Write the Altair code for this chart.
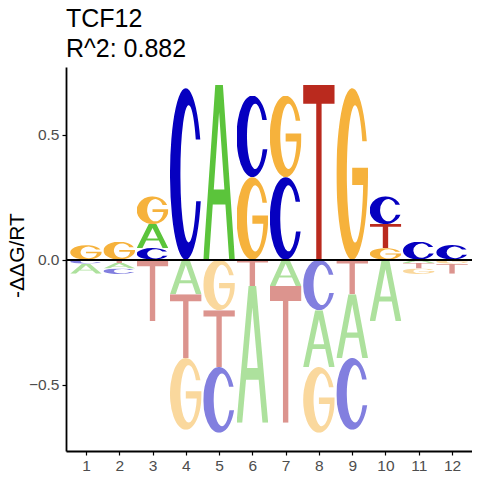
import base64
import altair as alt
import pandas as pd

# ---------------- data ----------------
positions = list(range(1, 13))
# letters stacked above zero, listed from the zero line upward
up_letters = [["G"], ["G"], ["C", "A", "G"], ["C"], ["A"], ["G", "C"],
              ["C", "G"], ["T"], ["G"], ["G", "T", "C"], ["C"], ["C"]]
up_heights = [[0.058], [0.072], [0.046, 0.096, 0.111], [0.686], [0.700], [0.330, 0.326],
              [0.330, 0.326], [0.700], [0.686], [0.046, 0.096, 0.111], [0.072], [0.058]]
# letters stacked below zero, listed from the zero line downward
down_letters = [["C", "A"], ["T", "A", "C"], ["T"], ["A", "T", "G"], ["G", "T", "C"], ["T", "A"],
                ["A", "T"], ["C", "A", "G"], ["T", "A", "C"], ["A"], ["A", "T", "G"], ["G", "T"]]
down_heights = [[0.016, 0.040], [0.013, 0.022, 0.022], [0.245], [0.138, 0.255, 0.287],
                [0.202, 0.227, 0.263], [0.105, 0.547], [0.105, 0.547], [0.202, 0.227, 0.263],
                [0.138, 0.255, 0.287], [0.245], [0.013, 0.022, 0.022], [0.016, 0.040]]
title_lines = ["TCF12", "R^2: 0.882"]
y_title = "-\u0394\u0394G/RT"
x_ticks = positions
y_ticks = [-0.5, 0.0, 0.5]

# ---------------- styles ----------------
FONT = "Liberation Sans"
COLORS = {"A": "#5BC43B", "C": "#0600C0", "G": "#F6B23C", "T": "#BA2A1E"}
GLYPHS = {
    "A": "M0 100 L38 0 L62 0 L100 100 L82 100 L70 68.5 L30 68.5 L18 100 Z "
         "M50 15.8 L66.8 60 L33.2 60 Z",
    "T": "M0 0 L100 0 L100 11 L58.5 11 L58.5 100 L41.5 100 L41.5 11 L0 11 Z",
    "C": "M95.8 30 A50 50 0 1 0 97.4 66 L82.8 66 A26 40 0 1 1 81.5 30 Z",
    "G": "M96.2 31 A50 50 0 1 0 100 50 L100 46.5 L50 46.5 L50 56.5 L84.7 56.5 "
         "A26 40 0 1 1 81.9 31 Z",
}
HALF_WIDTH = 0.475
PLOT_W, PLOT_H = 406, 384


def glyph_url(letter, alpha):
    svg = ('<svg xmlns="http://www.w3.org/2000/svg" width="100" height="100" '
           'viewBox="0 0 100 100" preserveAspectRatio="none">'
           f'<path d="{GLYPHS[letter]}" fill="{COLORS[letter]}" fill-opacity="{alpha}" '
           'fill-rule="evenodd"/></svg>')
    return "data:image/svg+xml;base64," + base64.b64encode(svg.encode()).decode()


rows = []
for p, lets, hs in zip(positions, up_letters, up_heights):
    base = 0.0
    for L, h in zip(lets, hs):
        rows.append({"pos": p, "letter": L, "x0": p - HALF_WIDTH, "x1": p + HALF_WIDTH,
                     "y_hi": base + h, "y_lo": base, "url": glyph_url(L, 1.0)})
        base += h
for p, lets, hs in zip(positions, down_letters, down_heights):
    base = 0.0
    for L, h in zip(lets, hs):
        rows.append({"pos": p, "letter": L, "x0": p - HALF_WIDTH, "x1": p + HALF_WIDTH,
                     "y_hi": base, "y_lo": base - h, "url": glyph_url(L, 0.5)})
        base -= h
df = pd.DataFrame(rows)

x_scale = alt.Scale(domain=[0.4, 12.6], nice=False, zero=False)
y_scale = alt.Scale(domain=[-0.765, 0.77], nice=False, zero=False)

letters = alt.Chart(df).mark_image(aspect=False).encode(
    x=alt.X("x0:Q", scale=x_scale,
            axis=alt.Axis(values=x_ticks, format="d", title=None, labelPadding=3)),
    x2="x1:Q",
    y=alt.Y("y_hi:Q", scale=y_scale,
            axis=alt.Axis(values=y_ticks, format=".1f", title=y_title, labelPadding=3,
                          titleX=-43, titleY=188, titleAngle=270,
                          titleBaseline="alphabetic", titleAlign="center")),
    y2="y_lo:Q",
    url="url:N",
)

zero_line = alt.Chart(df).mark_rule(color="black", strokeWidth=1.5).encode(
    y=alt.datum(0.0))

chart = alt.layer(letters, zero_line).properties(
    width=PLOT_W, height=PLOT_H,
    padding={"left": 58, "top": 59, "right": 0, "bottom": 21},
    autosize=alt.AutoSizeParams(type="none"),
    title=alt.Title(text=title_lines, anchor="start", frame="group", font=FONT,
                    fontSize=25, fontWeight="normal", color="black",
                    lineHeight=30, offset=5),
).configure_view(strokeWidth=0).configure_axis(
    grid=False, labelFont=FONT, labelFontSize=15.5, labelColor="#4D4D4D",
    tickSize=4, tickWidth=1.2, tickColor="black",
    domainColor="black", domainWidth=1.8,
    titleFont=FONT, titleFontSize=21, titleFontWeight="normal", titleColor="black",
)

chart.save("out.html", embed_options={"renderer": "svg", "actions": False})
